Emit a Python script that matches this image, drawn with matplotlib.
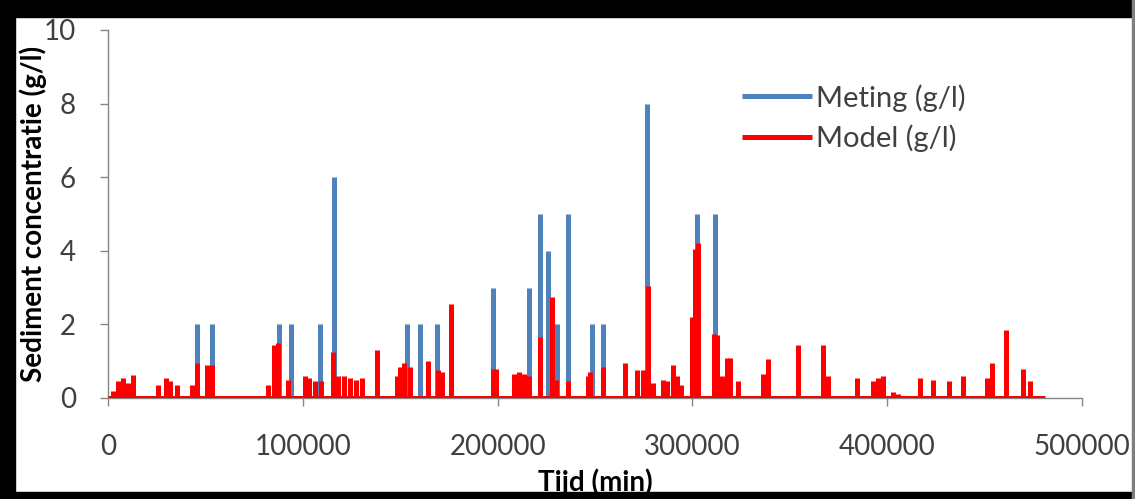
import matplotlib.pyplot as plt
from matplotlib.patches import Rectangle

# measured concentration (g/l), time in minutes
meting_t = [45500, 53200, 87800, 93800, 108800, 116200, 153300, 160200, 169000,
            197800, 216200, 221800, 225900, 230400, 236100, 248600, 254300,
            276600, 302300, 311600]
meting_v = [2, 2, 2, 2, 2, 6, 2, 2, 2, 3, 3, 5, 4, 2, 5, 2, 2, 8, 5, 5]

# model concentration (g/l)
model_t = [2600, 5100, 7700, 10300, 12800, 25700, 29800, 31800, 35400, 43100,
           45700, 50800, 53400, 82100, 85200, 87300, 92400, 101100, 103200,
           106300, 109300, 115500, 118100, 121100, 124200, 127300, 130400,
           138100, 148400, 149900, 152000, 155000, 164300, 169400, 171500,
           176100, 197600, 199200, 208400, 211000, 213600, 216100, 221800,
           227900, 230000, 236100, 246400, 247400, 254100, 265400, 271600,
           274600, 277200, 279800, 284900, 287000, 290000, 292100, 294100,
           299800, 301300, 302900, 311100, 312600, 315200, 317800, 319300,
           323400, 336200, 338800, 354200, 367000, 369600, 384500, 392700,
           395300, 397800, 403000, 405500, 416800, 423500, 431700, 438900,
           451200, 453800, 461000, 469700, 473300]
model_v = [0.2, 0.45, 0.55, 0.4, 0.63, 0.35, 0.55, 0.45, 0.35, 0.35,
           0.95, 0.9, 0.9, 0.35, 1.45, 1.5, 0.5, 0.6, 0.55,
           0.45, 0.45, 1.25, 0.6, 0.6, 0.55, 0.5, 0.55,
           1.3, 0.6, 0.85, 0.95, 0.85, 1.0, 0.75, 0.7,
           2.55, 0.8, 0.8, 0.65, 0.7, 0.65, 0.6, 1.65,
           2.75, 0.5, 0.45, 0.6, 0.7, 0.85, 0.95, 0.75,
           0.75, 3.05, 0.4, 0.5, 0.45, 0.9, 0.6, 0.35,
           2.2, 4.05, 4.2, 1.75, 1.7, 0.6, 1.1, 1.1,
           0.45, 0.65, 1.05, 1.45, 1.45, 0.6, 0.55, 0.45,
           0.55, 0.6, 0.15, 0.1, 0.55, 0.5, 0.45, 0.6,
           0.55, 0.95, 1.85, 0.8, 0.45]
model_end = 481000

x_ticks = [0, 100000, 200000, 300000, 400000, 500000]
y_ticks = [0, 2, 4, 6, 8, 10]

blue = "#4F81BD"
red = "#FF0000"
grey = "#868686"
text_col = "#404040"

plt.rcParams["font.family"] = ["Lato", "DejaVu Sans"]

fig = plt.figure(figsize=(11.35, 4.99), dpi=100)
ax = fig.add_axes([108 / 1135, 101 / 499, 974 / 1135, 368 / 499])

ax.vlines(meting_t, 0, meting_v, colors=blue, lw=3.6, label="Meting (g/l)", zorder=2)
ax.vlines(model_t, 0, model_v, colors=red, lw=3.6, label="Model (g/l)", zorder=3)
ax.hlines(0, 0, model_end, colors=red, lw=3.6, zorder=3)

ax.set_xlim(0, 500000)
ax.set_ylim(0, 10)
ax.set_xticks(x_ticks)
ax.set_yticks(y_ticks)
ax.tick_params(direction="out", length=6, width=1, color=grey,
               labelsize=20, labelcolor=text_col)
ax.tick_params(axis="y", pad=17)
ax.tick_params(axis="x", pad=20)
for s in ["top", "right"]:
    ax.spines[s].set_visible(False)
for s in ["left", "bottom"]:
    ax.spines[s].set_color(grey)
    ax.spines[s].set_linewidth(1)
ax.set_xlabel("Tijd (min)", fontsize=20, fontweight="bold", labelpad=6)
ax.set_ylabel("Sediment concentratie (g/l)", fontsize=20, fontweight="bold", labelpad=-2)

ax.legend(loc="upper left", bbox_to_anchor=(742 / 1135, 1 - 84 / 499),
          bbox_transform=fig.transFigure, frameon=False, fontsize=21,
          handlelength=2.4, handletextpad=0.15, labelspacing=0.45,
          borderpad=0, borderaxespad=0)
for t in ax.get_legend().get_texts():
    t.set_color(text_col)

# chart border from the screenshot
fig.patches.append(Rectangle((0, 1 - 17 / 499), 1, 17 / 499, transform=fig.transFigure, color="black"))
fig.patches.append(Rectangle((0, 0), 15 / 1135, 1, transform=fig.transFigure, color="black"))
fig.patches.append(Rectangle((0, 0), 1, 7 / 499, transform=fig.transFigure, color="black"))
fig.patches.append(Rectangle((1132 / 1135, 0), 3 / 1135, 1, transform=fig.transFigure, color="#7f7f7f"))

fig.savefig("out.png", dpi=100)
